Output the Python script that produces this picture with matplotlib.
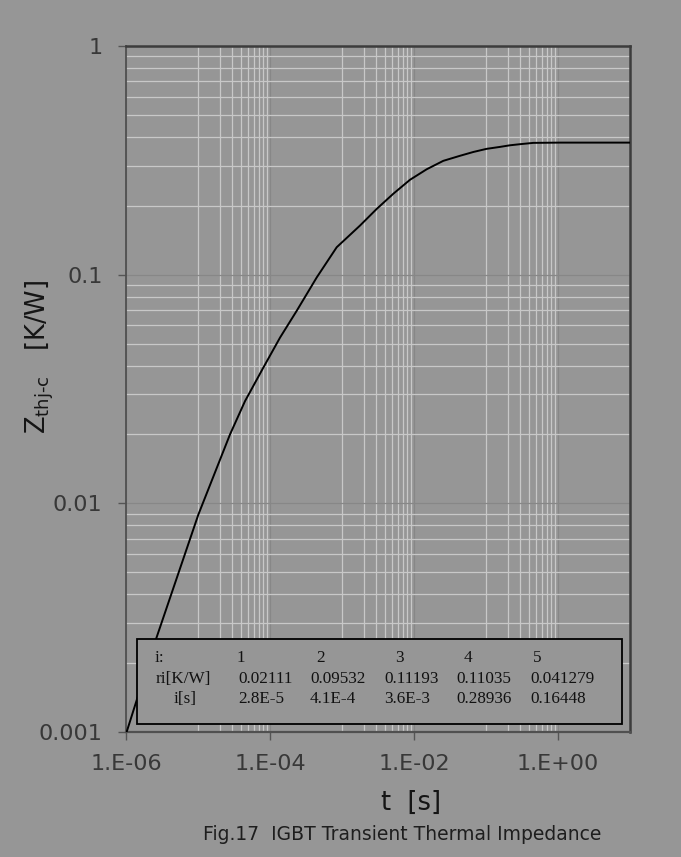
import matplotlib
matplotlib.use("Agg")
import matplotlib.pyplot as plt
from matplotlib.ticker import FixedLocator, NullFormatter
from matplotlib.patches import Rectangle

# ---- data ----
t_s = [1e-6, 2.58e-6, 1.01e-5, 2.78e-5, 4.5e-5, 8.07e-5, 1.38e-4, 2.35e-4,
       4.46e-4, 8.44e-4, 1.78e-3, 3.04e-3, 5.17e-3, 8.8e-3, 0.015, 0.0255,
       0.0435, 0.0667, 0.102, 0.156, 0.216, 0.296, 0.454, 1.07, 10.0]
zth = [0.00098, 0.00252, 0.00892, 0.0200, 0.028, 0.0392, 0.0531, 0.0695,
       0.0973, 0.1318, 0.164, 0.194, 0.226, 0.260, 0.289, 0.3146,
       0.331, 0.344, 0.355, 0.362, 0.368, 0.372, 0.377, 0.378, 0.378]

x_ticks = [1e-6, 1e-4, 1e-2, 1e0]
x_ticklabels = ["1.E-06", "1.E-04", "1.E-02", "1.E+00"]
y_ticks = [0.001, 0.01, 0.1, 1]
y_ticklabels = ["0.001", "0.01", "0.1", "1"]

tbl_index = ["1", "2", "3", "4", "5"]
tbl_r = ["0.02111", "0.09532", "0.11193", "0.11035", "0.041279"]
tbl_tau = ["2.8E-5", "4.1E-4", "3.6E-3", "0.28936", "0.16448"]

BG = "#969696"
W, H = 681, 857

fig = plt.figure(figsize=(W / 100, H / 100), dpi=100, facecolor=BG)
L, R, T, B = 126, 630, 46, 732
ax = fig.add_axes([L / W, 1 - B / H, (R - L) / W, (B - T) / H])
ax.set_facecolor(BG)
ax.set_xscale("log")
ax.set_yscale("log")
ax.set_xlim(1e-6, 10)
ax.set_ylim(1e-3, 1)

# major ticks / labels
ax.xaxis.set_major_locator(FixedLocator(x_ticks))
ax.set_xticklabels(x_ticklabels)
ax.yaxis.set_major_locator(FixedLocator(y_ticks))
ax.set_yticklabels(y_ticklabels)

# minor grid: x at 10..90 x major (Excel base-100 style), y standard
xminor = [k * 10.0 ** d for d in (-5, -3, -1) for k in range(1, 10)]
yminor = [k * 10.0 ** d for d in (-3, -2, -1) for k in range(2, 10)]
ax.xaxis.set_minor_locator(FixedLocator(xminor))
ax.yaxis.set_minor_locator(FixedLocator(yminor))
ax.xaxis.set_minor_formatter(NullFormatter())
ax.yaxis.set_minor_formatter(NullFormatter())

ax.grid(True, which="minor", color="#c8c8c8", linewidth=0.9, zorder=1)
ax.grid(True, which="major", color="#878787", linewidth=0.9, zorder=1)
ax.set_axisbelow(True)

ax.tick_params(which="minor", length=0)
ax.tick_params(which="major", direction="out", length=6, width=1, color="#555555",
               labelsize=16, labelcolor="#383838")
ax.tick_params(axis="y", pad=11)
ax.tick_params(axis="x", pad=10)

for side, lw, c in (("left", 1.3, "#505050"), ("bottom", 1.6, "#505050"),
                    ("top", 1.8, "#3c3c3c"), ("right", 1.8, "#3c3c3c")):
    ax.spines[side].set_linewidth(lw)
    ax.spines[side].set_color(c)

ax.plot(t_s, zth, color="black", linewidth=1.4, zorder=3, clip_on=True,
        solid_joinstyle="round")

# table box (opaque, covers the grid and curve)
bx0, bx1, by0, by1 = 137, 622, 639, 724
fig.patches.append(Rectangle((bx0 / W, 1 - by1 / H), (bx1 - bx0) / W, (by1 - by0) / H,
                             transform=fig.transFigure, facecolor=BG,
                             edgecolor="black", linewidth=1.3, zorder=5))

serif = dict(family="Liberation Serif", fontsize=12.3, color="#111111",
             va="center", ha="left", zorder=6)
rows_y = [658, 679, 699]
fig.text(155 / W, 1 - rows_y[0] / H, "i:", **serif)
fig.text(156 / W, 1 - rows_y[1] / H, "ri[K/W]", **serif)
fig.text(174 / W, 1 - rows_y[2] / H, "i[s]", **serif)
idx_x = [237, 316, 395, 464, 533]
val_x = [238, 310, 384, 456, 530]
for xi, s in zip(idx_x, tbl_index):
    fig.text(xi / W, 1 - rows_y[0] / H, s, **serif)
for xi, s in zip(val_x, tbl_r):
    fig.text(xi / W, 1 - rows_y[1] / H, s, **serif)
for xi, s in zip(val_x, tbl_tau):
    fig.text(xi / W, 1 - rows_y[2] / H, s, **serif)

# axis labels
plt.rcParams["mathtext.default"] = "regular"
fig.text(40 / W, 1 - 357 / H, "Z$_{thj\u2010c}$   [K/W]", rotation=90,
         ha="center", va="center", fontsize=18.5, color="#151515")
fig.text(411 / W, 1 - 803 / H, "t  [s]", ha="center", va="center",
         fontsize=18.5, color="#151515")

# caption
fig.text(203 / W, 1 - 834 / H, "Fig.17  IGBT Transient Thermal Impedance",
         ha="left", va="center", fontsize=13.5, color="#1e1e1e")

fig.savefig("out.png", dpi=100, facecolor=BG)
